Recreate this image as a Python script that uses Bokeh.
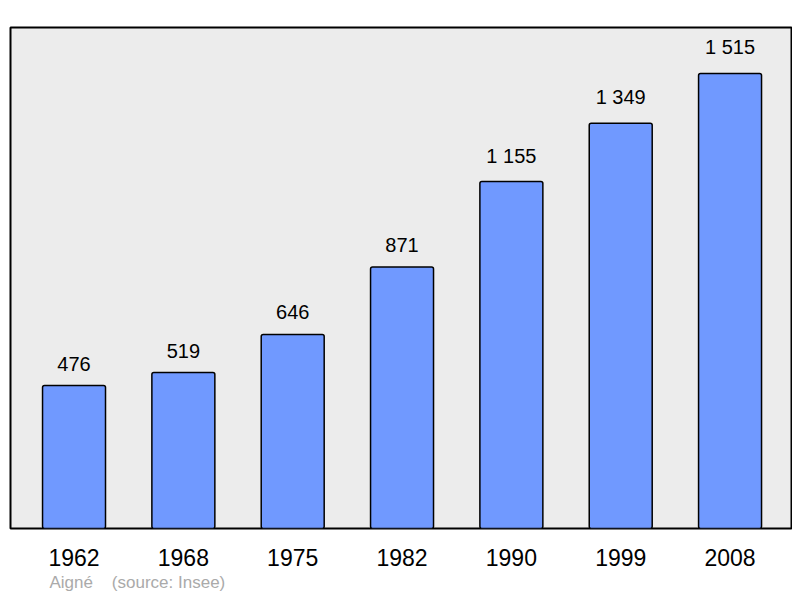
from bokeh.plotting import figure
from bokeh.models import Range1d, FixedTicker, Title, ColumnDataSource
from bokeh.core.properties import value
from bokeh.embed import file_html
from bokeh.resources import INLINE

years = ["1962", "1968", "1975", "1982", "1990", "1999", "2008"]
population = [476, 519, 646, 871, 1155, 1349, 1515]
value_labels = ["476", "519", "646", "871", "1 155", "1 349", "1 515"]
commune = "Aigné"
source_text = "(source: Insee)"

idx = list(range(len(years)))
src = ColumnDataSource(dict(x=idx, top=population, lab=value_labels))

p = figure(width=792, height=596, output_backend="svg", toolbar_location=None,
           x_range=Range1d(-0.581, 6.562), y_range=Range1d(0, 1668),
           min_border_left=10, min_border_right=1, min_border_top=27, min_border_bottom=68)
p.background_fill_color = "#ececec"
p.border_fill_color = "white"
p.outline_line_color = "black"
p.outline_line_width = 2
p.xgrid.visible = False
p.ygrid.visible = False
p.yaxis.visible = False

p.vbar(x="x", top="top", bottom=0, width=0.576, source=src,
       fill_color="#7099ff", line_color="black", line_width=1.5, border_radius=2)

p.text(x="x", y="top", text="lab", source=src, text_align="center", text_baseline="bottom",
       y_offset=-15, text_font=value("Liberation Sans"), text_font_size="20px", text_color="black")

ax = p.xaxis[0]
ax.ticker = FixedTicker(ticks=idx)
ax.major_label_overrides = {i: y for i, y in zip(idx, years)}
ax.axis_line_color = None
ax.major_tick_line_color = None
ax.minor_tick_line_color = None
ax.major_label_text_font = "Liberation Sans"
ax.major_label_text_font_size = "23px"
ax.major_label_text_color = "black"
ax.major_label_standoff = 14

foot = Title(text=commune + "\u00a0\u00a0\u00a0 " + source_text, align="left", offset=39,
             text_font="Liberation Sans", text_font_size="17px", text_color="#aaaaaa",
             text_font_style="normal", standoff=5)
p.add_layout(foot, "below")

open("out.html", "w").write(file_html(p, INLINE))
